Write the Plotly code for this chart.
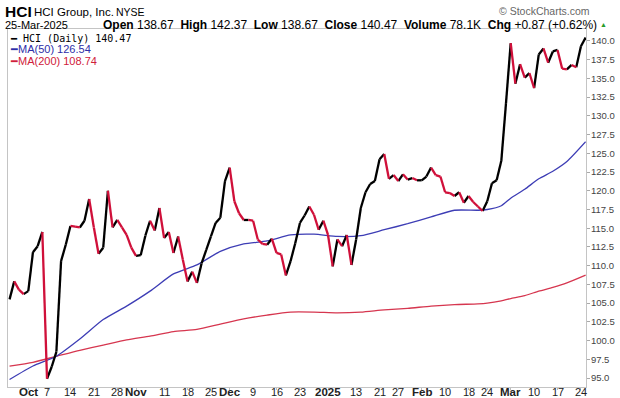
import pandas as pd
import plotly.graph_objects as go

# ---- data -------------------------------------------------------------
holidays = ["2024-11-28", "2024-12-25", "2025-01-01", "2025-01-09", "2025-01-20", "2025-02-17"]
dates = [d.strftime("%Y-%m-%d") for d in pd.bdate_range("2024-09-25", "2025-03-25")
         if d.strftime("%Y-%m-%d") not in holidays]

close = [105.5, 107.9, 106.8, 106.2, 106.6, 111.8, 112.6, 114.5,
         94.9, 96.5, 98.5, 110.6, 112.8, 115.3, 115.2, 115.1, 116.0, 118.9,
         115.1, 111.6, 112.4, 120.0, 115.1, 116.1, 115.1, 114.1, 112.4,
         111.3, 111.4, 114.0, 116.0, 114.7, 117.7, 113.7, 114.5, 111.7, 113.9,
         110.8, 107.9, 109.2, 107.7, 110.3, 112.1, 113.9, 115.7, 116.4,
         121.3, 123.1, 118.6, 117.0, 116.1, 116.1, 116.0, 113.5, 112.9, 112.8,
         113.6, 111.7, 111.5, 108.7, 110.6, 113.0, 115.7, 116.7, 117.9, 116.8,
         114.8, 116.0, 114.1, 109.9, 113.5, 112.6, 114.1, 110.1, 113.5, 117.7,
         119.8, 120.9, 121.3, 124.2, 124.9, 121.6, 122.1, 121.3, 122.2, 121.5,
         121.7, 121.4, 121.4, 121.9, 123.1, 122.1, 121.9, 119.8, 119.7, 119.3,
         119.8, 118.4, 119.3, 118.5, 117.9, 117.3, 118.6, 121.0, 121.4, 124.0,
         131.7, 139.7, 134.3, 136.9, 135.1, 135.7, 133.7, 138.2, 139.0, 137.1,
         138.6, 138.8, 136.3, 136.2, 136.8, 136.5, 139.3, 140.47]

ma_dates = ["2024-09-25", "2024-10-02", "2024-10-09", "2024-10-16", "2024-10-23",
            "2024-10-30", "2024-11-06", "2024-11-13", "2024-11-20", "2024-11-27",
            "2024-12-05", "2024-12-12", "2024-12-19", "2024-12-27", "2025-01-06",
            "2025-01-14", "2025-01-22", "2025-01-29", "2025-02-05", "2025-02-12",
            "2025-02-20", "2025-02-24", "2025-02-27", "2025-03-03", "2025-03-06",
            "2025-03-11", "2025-03-14", "2025-03-19", "2025-03-25"]
ma50 = [94.8, 96.6, 97.9, 100.2, 102.8, 104.6, 106.6, 108.9, 110.1, 111.9,
        112.9, 113.3, 114.1, 114.2, 113.9, 114.0, 114.8, 115.6, 116.5, 117.4,
        117.4, 117.5, 118.0, 119.0, 120.2, 121.6, 122.6, 123.9, 126.54]
ma200 = [96.6, 97.1, 97.9, 98.7, 99.4, 100.1, 100.6, 101.2, 101.5, 102.2,
         102.9, 103.4, 103.8, 103.8, 103.7, 103.8, 104.1, 104.3, 104.6, 104.8,
         104.9, 105.0, 105.3, 105.6, 106.0, 106.6, 107.1, 107.7, 108.74]

tick_dates = ["2024-10-01", "2024-10-07", "2024-10-14", "2024-10-21", "2024-10-28",
              "2024-11-01", "2024-11-11", "2024-11-18", "2024-11-25", "2024-12-02",
              "2024-12-09", "2024-12-16", "2024-12-23", "2025-01-02", "2025-01-13",
              "2025-01-21", "2025-01-27", "2025-02-03", "2025-02-10", "2025-02-18",
              "2025-02-24", "2025-03-03", "2025-03-10", "2025-03-17", "2025-03-24"]
tick_labels = ["Oct", "7", "14", "21", "28", "Nov", "11", "18", "25",
               "Dec", "9", "16", "23", "2025", "13", "21", "27",
               "Feb", "10", "18", "24", "Mar", "10", "17", "24"]
bold_labels = ["Oct", "Nov", "Dec", "2025", "Feb", "Mar"]

y_ticks = [95.0, 97.5, 100.0, 102.5, 105.0, 107.5, 110.0, 112.5, 115.0, 117.5,
           120.0, 122.5, 125.0, 127.5, 130.0, 132.5, 135.0, 137.5, 140.0]

# ---- build up/down segments ----------------------------------------------
up_x, up_y, dn_x, dn_y = [], [], [], []
for i in range(len(close) - 1):
    if close[i + 1] >= close[i]:
        up_x += [dates[i], dates[i + 1], None]
        up_y += [close[i], close[i + 1], None]
    else:
        dn_x += [dates[i], dates[i + 1], None]
        dn_y += [close[i], close[i + 1], None]

fig = go.Figure()
fig.add_trace(go.Scatter(x=ma_dates, y=ma200, mode="lines", line_shape="spline",
                         line=dict(color="#d6364f", width=1.3, smoothing=0.6), hoverinfo="skip"))
fig.add_trace(go.Scatter(x=ma_dates, y=ma50, mode="lines", line_shape="spline",
                         line=dict(color="#3d3db5", width=1.3, smoothing=0.6), hoverinfo="skip"))
fig.add_trace(go.Scatter(x=up_x, y=up_y, mode="lines", connectgaps=False,
                         line=dict(color="#000000", width=2.3)))
fig.add_trace(go.Scatter(x=dn_x, y=dn_y, mode="lines", connectgaps=False,
                         line=dict(color="#d0103a", width=2.3)))

L, R, T, B = 8, 586, 29, 387
W, H = 620, 398

def px(x):
    return (x - L) / (R - L)

def py(y):
    return (B - y) / (B - T)

ann = []
def add(text, x, y, size, color="#000", family="Liberation Sans", xanchor="left"):
    ann.append(dict(text=text, x=px(x), y=py(y), xref="paper", yref="paper",
                    xanchor=xanchor, yanchor="middle", showarrow=False, borderpad=0,
                    font=dict(size=size, color=color, family=family)))

add("<b>HCI</b>", 4, 11, 15.5)
add("HCI Group, Inc.", 33, 12, 11.5)
add("NYSE", 115, 12, 10.5)
add("© StockCharts.com", 591, 11, 10.5, color="#666", xanchor="right")
add("25-Mar-2025", 4, 25, 11)
add("<b>Open</b> 138.67  <b>High</b> 142.37  <b>Low</b> 138.67  <b>Close</b> 140.47  "
    "<b>Volume</b> 78.1K  <b>Chg</b> +0.87 (+0.62%)", 598, 25, 12, xanchor="right")
add("▲", 608, 24, 7, color="#2a9a2a", xanchor="right")
add("━ HCI (Daily) 140.47", 9, 38, 10, family="DejaVu Sans Mono")
add("━MA(50) 126.54", 9, 49.5, 11, color="#2e2ea8")
add("━MA(200) 108.74", 9, 61, 11, color="#d0203a")

# x-axis tick labels placed via the category axis just below the plot box
for d, t in zip(tick_dates, tick_labels):
    bold = t in bold_labels
    ann.append(dict(text=f"<b>{t}</b>" if bold else t, x=d, xref="x",
                    y=py(392), yref="paper", xanchor="center", yanchor="middle",
                    showarrow=False, borderpad=0,
                    font=dict(size=11.5 if bold else 11, family="Liberation Sans", color="#222")))

fig.update_layout(
    width=W, height=H,
    margin=dict(l=L, r=W - R, t=T, b=H - B, autoexpand=False),
    paper_bgcolor="white", plot_bgcolor="white",
    showlegend=False,
    annotations=ann,
    xaxis=dict(type="category", categoryorder="array", categoryarray=dates,
               range=[-0.33, len(dates) - 1 + 0.08], automargin=False,
               tickvals=tick_dates, showticklabels=False,
               ticks="outside", ticklen=2, tickcolor="#bbb",
               showgrid=False, showline=True, linecolor="#c4c4c4", mirror=True,
               zeroline=False),
    yaxis=dict(side="right", range=[93.8, 141.6], tickvals=y_ticks, automargin=False,
               ticktext=[f"{v:.1f}" for v in y_ticks],
               tickfont=dict(size=9.5, family="Liberation Sans", color="#444"),
               ticks="outside", ticklen=3, tickcolor="#aaa",
               showgrid=False, showline=True, linecolor="#c4c4c4", mirror=True,
               zeroline=False, ticklabelstandoff=-1),
)

fig.write_html("out.html", config={"displayModeBar": False},
               post_script="document.body.style.margin='0';document.body.style.overflow='hidden';")
